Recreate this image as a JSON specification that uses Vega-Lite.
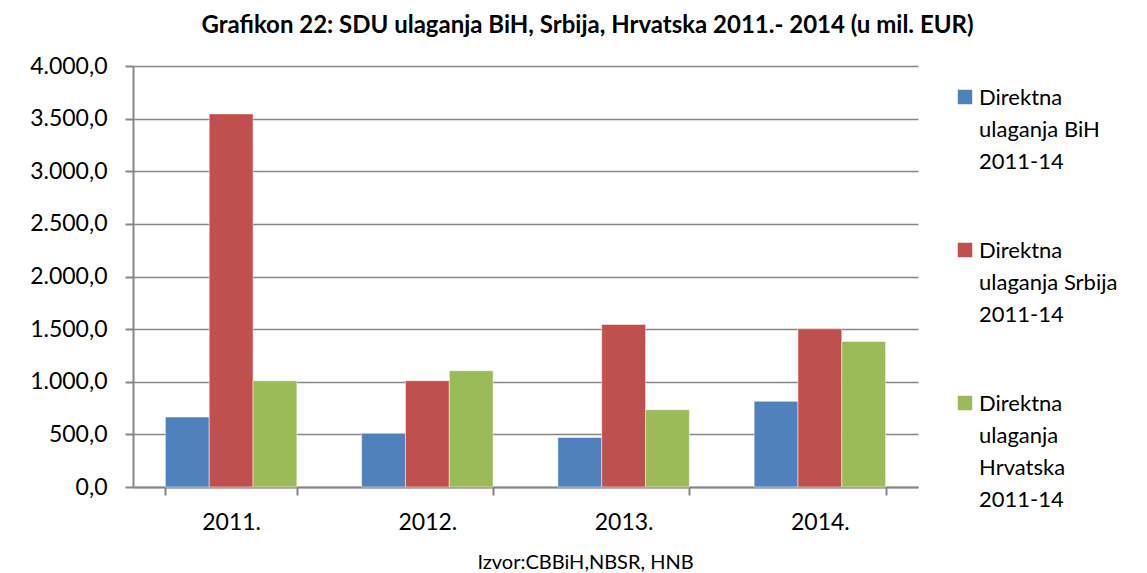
{
  "$schema": "https://vega.github.io/schema/vega-lite/v6.json",
  "autosize": {"type": "none"},
  "width": 785,
  "height": 421,
  "padding": {"left": 133, "top": 66, "right": 229, "bottom": 86},
  "config": {
    "font": "Lato",
    "locale": {"number": {"decimal": ",", "thousands": ".", "grouping": [3], "currency": ["", " €"]}},
    "view": {"stroke": null},
    "background": "white"
  },
  "title": {
    "text": "Grafikon 22: SDU ulaganja BiH, Srbija, Hrvatska 2011.- 2014 (u mil. EUR)",
    "font": "Lato",
    "fontSize": 24,
    "fontWeight": "bold",
    "color": "#000000",
    "anchor": "middle",
    "dx": 62,
    "offset": 17
  },
  "data": {
    "values": [
      {"year": "2011.", "series": "Direktna ulaganja BiH 2011-14", "value": 665},
      {"year": "2011.", "series": "Direktna ulaganja Srbija 2011-14", "value": 3545},
      {"year": "2011.", "series": "Direktna ulaganja Hrvatska 2011-14", "value": 1010},
      {"year": "2012.", "series": "Direktna ulaganja BiH 2011-14", "value": 510},
      {"year": "2012.", "series": "Direktna ulaganja Srbija 2011-14", "value": 1010},
      {"year": "2012.", "series": "Direktna ulaganja Hrvatska 2011-14", "value": 1105},
      {"year": "2013.", "series": "Direktna ulaganja BiH 2011-14", "value": 470},
      {"year": "2013.", "series": "Direktna ulaganja Srbija 2011-14", "value": 1545},
      {"year": "2013.", "series": "Direktna ulaganja Hrvatska 2011-14", "value": 735},
      {"year": "2014.", "series": "Direktna ulaganja BiH 2011-14", "value": 814},
      {"year": "2014.", "series": "Direktna ulaganja Srbija 2011-14", "value": 1503},
      {"year": "2014.", "series": "Direktna ulaganja Hrvatska 2011-14", "value": 1382}
    ]
  },
  "mark": {"type": "bar", "stroke": "white", "strokeWidth": 0.5},
  "encoding": {
    "x": {
      "field": "year",
      "type": "nominal",
      "scale": {"paddingInner": 0.33, "paddingOuter": 0.165},
      "axis": {
        "title": "Izvor:CBBiH,NBSR, HNB",
        "titleFont": "Lato",
        "titleFontSize": 20,
        "titleFontWeight": "normal",
        "titleColor": "#000000",
        "titleX": 452,
        "titleY": 81,
        "titleAnchor": "middle",
        "titleAlign": "center",
        "titleBaseline": "alphabetic",
        "labelAngle": 0,
        "labelFontSize": 23,
        "labelColor": "#000000",
        "labelPadding": 16,
        "tickBand": "extent",
        "tickSize": 8,
        "tickColor": "#868686",
        "tickWidth": 2,
        "domainColor": "#868686",
        "domainWidth": 2,
        "grid": false
      }
    },
    "xOffset": {
      "field": "series",
      "sort": ["Direktna ulaganja BiH 2011-14", "Direktna ulaganja Srbija 2011-14", "Direktna ulaganja Hrvatska 2011-14"]
    },
    "y": {
      "field": "value",
      "type": "quantitative",
      "scale": {"domain": [0, 4000], "nice": false},
      "axis": {
        "title": null,
        "values": [0, 500, 1000, 1500, 2000, 2500, 3000, 3500, 4000],
        "format": ",.1f",
        "labelFontSize": 23,
        "labelColor": "#000000",
        "labelPadding": 18,
        "tickSize": 8,
        "tickColor": "#868686",
        "tickWidth": 2,
        "domainColor": "#868686",
        "domainWidth": 2,
        "gridColor": "#868686",
        "gridWidth": 1.5
      }
    },
    "color": {
      "field": "series",
      "type": "nominal",
      "scale": {
        "domain": ["Direktna ulaganja BiH 2011-14", "Direktna ulaganja Srbija 2011-14", "Direktna ulaganja Hrvatska 2011-14"],
        "range": ["#4F81BD", "#C0504D", "#9BBB59"]
      },
      "legend": {
        "title": null,
        "orient": "none",
        "legendX": 821,
        "legendY": 20,
        "symbolType": "square",
        "symbolSize": 210,
        "symbolStrokeWidth": 0,
        "labelFontSize": 22,
        "labelColor": "#000000",
        "labelBaseline": "top",
        "labelLimit": 300,
        "labelOffset": 3,
        "rowPadding": 66,
        "labelExpr": "indexof(datum.label,'Hrvatska')>=0 ? ['Direktna','ulaganja','Hrvatska','2011-14'] : ['Direktna', slice(datum.label, 9, -8), '2011-14']",
        "encoding": {
          "labels": {"lineHeight": {"value": 32}, "dy": {"value": -9}}
        }
      }
    }
  }
}
